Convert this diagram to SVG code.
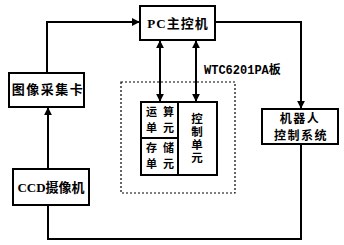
<svg xmlns="http://www.w3.org/2000/svg" width="344" height="245" viewBox="0 0 344 245">
<style>
.box{fill:#fff;stroke:#000;stroke-width:2}
.ln{fill:none;stroke:#000;stroke-width:2}
.t{font-family:"Noto Sans CJK SC","Liberation Serif",serif;font-weight:bold;font-size:13px;fill:#000}
.s{font-size:11px}
.v{writing-mode:vertical-rl;font-size:11.5px}
.lat{font-family:"Liberation Serif","Noto Sans CJK SC",serif;font-weight:bold}
.mono{font-family:"Liberation Mono","Noto Sans CJK SC",monospace;font-weight:bold;font-size:12px;fill:#000}
</style>
<defs>
<marker id="ah" viewBox="0 0 10 10" refX="9" refY="5" markerWidth="4" markerHeight="4" orient="auto-start-reverse">
<path d="M0,0 L10,5 L0,10 z" fill="#000"/>
</marker>
</defs>
<rect width="344" height="245" fill="#fff"/>
<g id="connectors">
<path class="ln" d="M47,73 V22 H139" marker-end="url(#ah)"/>
<path class="ln" d="M215,22 H301 V108" marker-end="url(#ah)"/>
<path class="ln" d="M301,144 V239 H48 V205"/>
<path class="ln" d="M48,169 V108" marker-end="url(#ah)"/>
<path class="ln" d="M160,41 V101" marker-start="url(#ah)" marker-end="url(#ah)"/>
<path class="ln" d="M196,41 V101" marker-start="url(#ah)" marker-end="url(#ah)"/>
</g>
<g id="board">
<rect x="121" y="82" width="114" height="111" fill="none" stroke="#000" stroke-width="1.2" stroke-dasharray="2,2"/>
<text class="mono" x="204" y="74">WTC6201PA<tspan class="t" style="font-size:12px">板</tspan></text>
</g>
<g id="pc">
<rect class="box" x="140" y="6" width="75" height="34"/>
<text class="t" x="178" y="28" text-anchor="middle" letter-spacing="1"><tspan class="lat">PC</tspan>主控机</text>
</g>
<g id="capture">
<rect class="box" x="9" y="73" width="75" height="34"/>
<text class="t" x="48" y="94" text-anchor="middle" letter-spacing="1.5">图像采集卡</text>
</g>
<g id="ccd">
<rect class="box" x="13" y="169" width="76" height="36"/>
<text class="t" x="51" y="192" text-anchor="middle"><tspan class="lat">CCD</tspan>摄像机</text>
</g>
<g id="robot">
<rect class="box" x="262" y="109" width="76" height="35"/>
<text class="t" style="font-size:12px" text-anchor="middle" letter-spacing="1.5"><tspan x="300" y="122.5">机器人</tspan><tspan x="301" y="140">控制系统</tspan></text>
</g>
<g id="dsp">
<rect class="box" x="141" y="102" width="76" height="73"/>
<line class="ln" x1="178" y1="102" x2="178" y2="175"/>
<line class="ln" x1="141" y1="138" x2="178" y2="138"/>
<text class="t s" letter-spacing="6"><tspan x="146" y="116">运算</tspan><tspan x="146" y="132">单元</tspan></text>
<text class="t s" letter-spacing="6"><tspan x="146" y="152">存储</tspan><tspan x="146" y="168">单元</tspan></text>
<text class="t v" x="197" y="113" letter-spacing="1.5">控制单元</text>
</g>
</svg>
